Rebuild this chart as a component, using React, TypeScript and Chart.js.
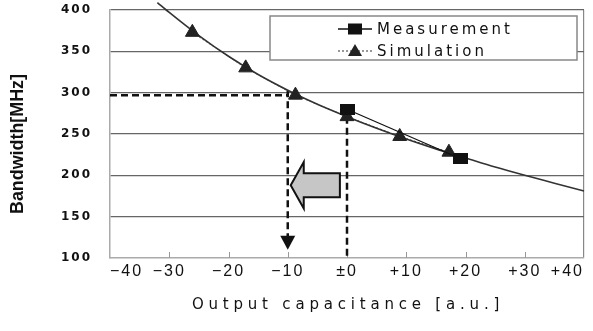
import React, { useEffect, useRef } from 'react';
import { Chart, registerables } from 'chart.js';

Chart.register(...registerables);

// ---- data ----
const xTickValues = [-40, -30, -20, -10, 0, 10, 20, 30, 40];
const xTickLabels = ['−40', '−30', '−20', '−10', '±0', '+10', '+20', '+30', '+40'];
const yTickValues = [100, 150, 200, 250, 300, 350, 400];

const curveX = [-32, -30, -25, -20, -15, -10, -5, 0, 5, 10, 15, 20, 25, 30, 35, 40];
const curveY = [409, 397, 369, 344, 322, 303, 286, 271, 257, 244, 232, 221, 210, 200, 190.5, 181];

const simX = [-26.1, -17.1, -8.7, 0, 8.9, 17.2];
const simY = [373, 330, 297, 271, 247, 228];

const measX = [0, 19.2];
const measY = [280, 220];

const seriesNames = ['Measurement', 'Simulation'];
const xTitle = 'Output capacitance [a.u.]';
const yTitle = 'Bandwidth[MHz]';

// guide annotations (data units)
const guideY = 297;
const guideX1 = -10;
const guideTop1 = 303;
const guideX2 = 0;
const guideTop2 = 271;
const arrowTipY = 110;
const bigArrow = { tipX: -9.5, headX: -7.3, tailX: -1.2, y: 188, bodyHalf: 14.5, headHalf: 28 };

const customPlugin = {
  id: 'customDraw',
  beforeDraw(chart: any) {
    chart.ctx.letterSpacing = '2px';
  },
  beforeDatasetsDraw(chart: any) {
    const { ctx, chartArea } = chart;
    const x = chart.scales.x;
    const y = chart.scales.y;
    ctx.save();
    // inner tick marks on x axis
    ctx.strokeStyle = '#999';
    ctx.lineWidth = 1;
    for (const v of xTickValues.slice(1, -1)) {
      const px = Math.round(x.getPixelForValue(v)) + 0.5;
      ctx.beginPath();
      ctx.moveTo(px, chartArea.bottom);
      ctx.lineTo(px, chartArea.bottom - 6);
      ctx.stroke();
    }
    // dashed guides
    ctx.setLineDash([7, 4]);
    ctx.lineWidth = 2.5;
    ctx.strokeStyle = '#111';
    ctx.beginPath();
    ctx.moveTo(chartArea.left, y.getPixelForValue(guideY));
    ctx.lineTo(x.getPixelForValue(guideX1), y.getPixelForValue(guideY));
    ctx.stroke();
    const tipPx = y.getPixelForValue(arrowTipY);
    ctx.beginPath();
    ctx.moveTo(x.getPixelForValue(guideX1), y.getPixelForValue(guideTop1));
    ctx.lineTo(x.getPixelForValue(guideX1), tipPx - 13);
    ctx.stroke();
    ctx.beginPath();
    ctx.moveTo(x.getPixelForValue(guideX2), y.getPixelForValue(guideTop2));
    ctx.lineTo(x.getPixelForValue(guideX2), chartArea.bottom);
    ctx.stroke();
    ctx.setLineDash([]);
    // small arrow head
    const ax = x.getPixelForValue(guideX1);
    ctx.fillStyle = '#111';
    ctx.beginPath();
    ctx.moveTo(ax, tipPx);
    ctx.lineTo(ax - 7.5, tipPx - 14);
    ctx.lineTo(ax + 7.5, tipPx - 14);
    ctx.closePath();
    ctx.fill();
    // big gray arrow
    const cy = y.getPixelForValue(bigArrow.y);
    const bh = y.getPixelForValue(bigArrow.y - bigArrow.bodyHalf) - cy;
    const hh = y.getPixelForValue(bigArrow.y - bigArrow.headHalf) - cy;
    const tx = x.getPixelForValue(bigArrow.tipX);
    const hx = x.getPixelForValue(bigArrow.headX);
    const ex = x.getPixelForValue(bigArrow.tailX);
    ctx.beginPath();
    ctx.moveTo(tx, cy);
    ctx.lineTo(hx, cy - hh);
    ctx.lineTo(hx, cy - bh);
    ctx.lineTo(ex, cy - bh);
    ctx.lineTo(ex, cy + bh);
    ctx.lineTo(hx, cy + bh);
    ctx.lineTo(hx, cy + hh);
    ctx.closePath();
    ctx.fillStyle = '#c6c6c6';
    ctx.fill();
    ctx.lineWidth = 2;
    ctx.strokeStyle = '#111';
    ctx.lineJoin = 'miter';
    ctx.stroke();
    ctx.restore();
  },
  afterDraw(chart: any) {
    const { ctx, chartArea } = chart;
    ctx.save();
    // legend box
    const lx = chartArea.left + 160;
    const ly = chartArea.top + 6;
    const lw = 307;
    const lh = 44;
    ctx.fillStyle = '#fff';
    ctx.fillRect(lx, ly, lw, lh);
    ctx.strokeStyle = '#888';
    ctx.lineWidth = 1.5;
    ctx.strokeRect(lx, ly, lw, lh);
    const symL = lx + 68;
    const symR = lx + 102;
    const symC = (symL + symR) / 2;
    const r1 = ly + 13;
    const r2 = ly + 35;
    // measurement symbol
    ctx.strokeStyle = '#111';
    ctx.lineWidth = 1.5;
    ctx.beginPath();
    ctx.moveTo(symL, r1);
    ctx.lineTo(symR, r1);
    ctx.stroke();
    ctx.fillStyle = '#111';
    ctx.fillRect(symC - 7, r1 - 5.5, 14, 11);
    // simulation symbol
    ctx.setLineDash([2, 2]);
    ctx.lineWidth = 1.2;
    ctx.strokeStyle = '#333';
    ctx.beginPath();
    ctx.moveTo(symL, r2);
    ctx.lineTo(symR, r2);
    ctx.stroke();
    ctx.setLineDash([]);
    ctx.fillStyle = '#222';
    ctx.beginPath();
    ctx.moveTo(symC, r2 - 7);
    ctx.lineTo(symC + 7, r2 + 5);
    ctx.lineTo(symC - 7, r2 + 5);
    ctx.closePath();
    ctx.fill();
    // legend text
    ctx.letterSpacing = '3px';
    ctx.font = '15px "DejaVu Sans"';
    ctx.fillStyle = '#111';
    ctx.textAlign = 'left';
    ctx.textBaseline = 'middle';
    ctx.fillText(seriesNames[0], symR + 5, r1 + 1);
    ctx.fillText(seriesNames[1], symR + 5, r2 + 1);
    // x title
    ctx.letterSpacing = '4.8px';
    ctx.font = '15px "DejaVu Sans"';
    ctx.textAlign = 'center';
    ctx.fillText(xTitle, 348, 305);
    // y title (condensed)
    ctx.letterSpacing = '0px';
    ctx.font = 'bold 19px "Liberation Sans", Arial, sans-serif';
    const w = ctx.measureText(yTitle).width;
    ctx.translate(18, 144);
    ctx.rotate(-Math.PI / 2);
    ctx.scale(140 / w, 1);
    ctx.fillText(yTitle, 0, 0);
    ctx.restore();
    ctx.letterSpacing = '0px';
  },
};

export default function App() {
  const ref = useRef<HTMLCanvasElement | null>(null);
  useEffect(() => {
    if (!ref.current) return;
    const sq = document.createElement('canvas');
    sq.width = 15;
    sq.height = 11;
    const sctx = sq.getContext('2d')!;
    sctx.fillStyle = '#111';
    sctx.fillRect(0, 0, 15, 11);

    const chart = new Chart(ref.current, {
      type: 'line',
      data: {
        datasets: [
          {
            label: seriesNames[0],
            data: measX.map((v, i) => ({ x: v, y: measY[i] })),
            borderColor: '#111',
            borderWidth: 1.2,
            pointStyle: sq as any,
            pointRadius: 7,
            tension: 0,
            order: 0,
          },
          {
            label: seriesNames[1],
            data: simX.map((v, i) => ({ x: v, y: simY[i] })),
            borderColor: '#333',
            borderWidth: 1,
            borderDash: [2, 2],
            pointStyle: 'triangle',
            pointRadius: 8,
            pointBackgroundColor: '#222',
            pointBorderColor: '#222',
            pointBorderWidth: 1,
            tension: 0,
            order: 1,
          },
          {
            label: 'curve',
            data: curveX.map((v, i) => ({ x: v, y: curveY[i] })),
            borderColor: '#333',
            borderWidth: 1.6,
            pointRadius: 0,
            tension: 0.4,
            cubicInterpolationMode: 'monotone',
            clip: false as any,
            order: 2,
          },
        ],
      },
      options: {
        responsive: false,
        animation: false,
        layout: { padding: { top: 10, right: 5, left: 0, bottom: 0 } },
        plugins: { legend: { display: false }, tooltip: { enabled: false } },
        scales: {
          x: {
            type: 'linear',
            min: -40,
            max: 40,
            afterBuildTicks: (s: any) => {
              s.ticks = xTickValues.map((v) => ({ value: v }));
            },
            ticks: {
              autoSkip: false,
              maxRotation: 0,
              align: 'inner',
              padding: 4,
              color: '#111',
              font: { family: '"Liberation Sans", Arial', size: 16 },
              callback: (v: any) => {
                const i = xTickValues.indexOf(Number(v));
                return i >= 0 ? xTickLabels[i] : '';
              },
            },
            grid: {
              drawTicks: false,
              color: (c: any) => (c.tick && c.tick.value === 40 ? '#888' : 'rgba(0,0,0,0)'),
              lineWidth: 1.2,
            },
            border: { color: '#aaa', width: 1.5 },
            afterFit: (s: any) => {
              s.height = 73;
              s.paddingLeft = 0;
              s.paddingRight = 0;
            },
          },
          y: {
            type: 'linear',
            min: 100,
            max: 400,
            afterBuildTicks: (s: any) => {
              s.ticks = yTickValues.map((v) => ({ value: v }));
            },
            ticks: {
              padding: 18,
              color: '#111',
              font: { family: '"DejaVu Sans"', size: 12, weight: 'bold' },
            },
            grid: {
              drawTicks: false,
              color: (c: any) => (c.tick && c.tick.value === 100 ? 'rgba(0,0,0,0)' : '#666'),
              lineWidth: 1.2,
            },
            border: { color: '#aaa', width: 1.5 },
            afterFit: (s: any) => {
              s.width = 110;
              s.paddingTop = 0;
              s.paddingBottom = 0;
            },
          },
        },
      } as any,
      plugins: [customPlugin],
    });
    return () => chart.destroy();
  }, []);

  return (
    <div style={{ position: 'absolute', left: 0, top: 0, width: 593, height: 331, background: '#fff' }}>
      <canvas ref={ref} width={593} height={331} style={{ display: 'block' }} />
    </div>
  );
}
